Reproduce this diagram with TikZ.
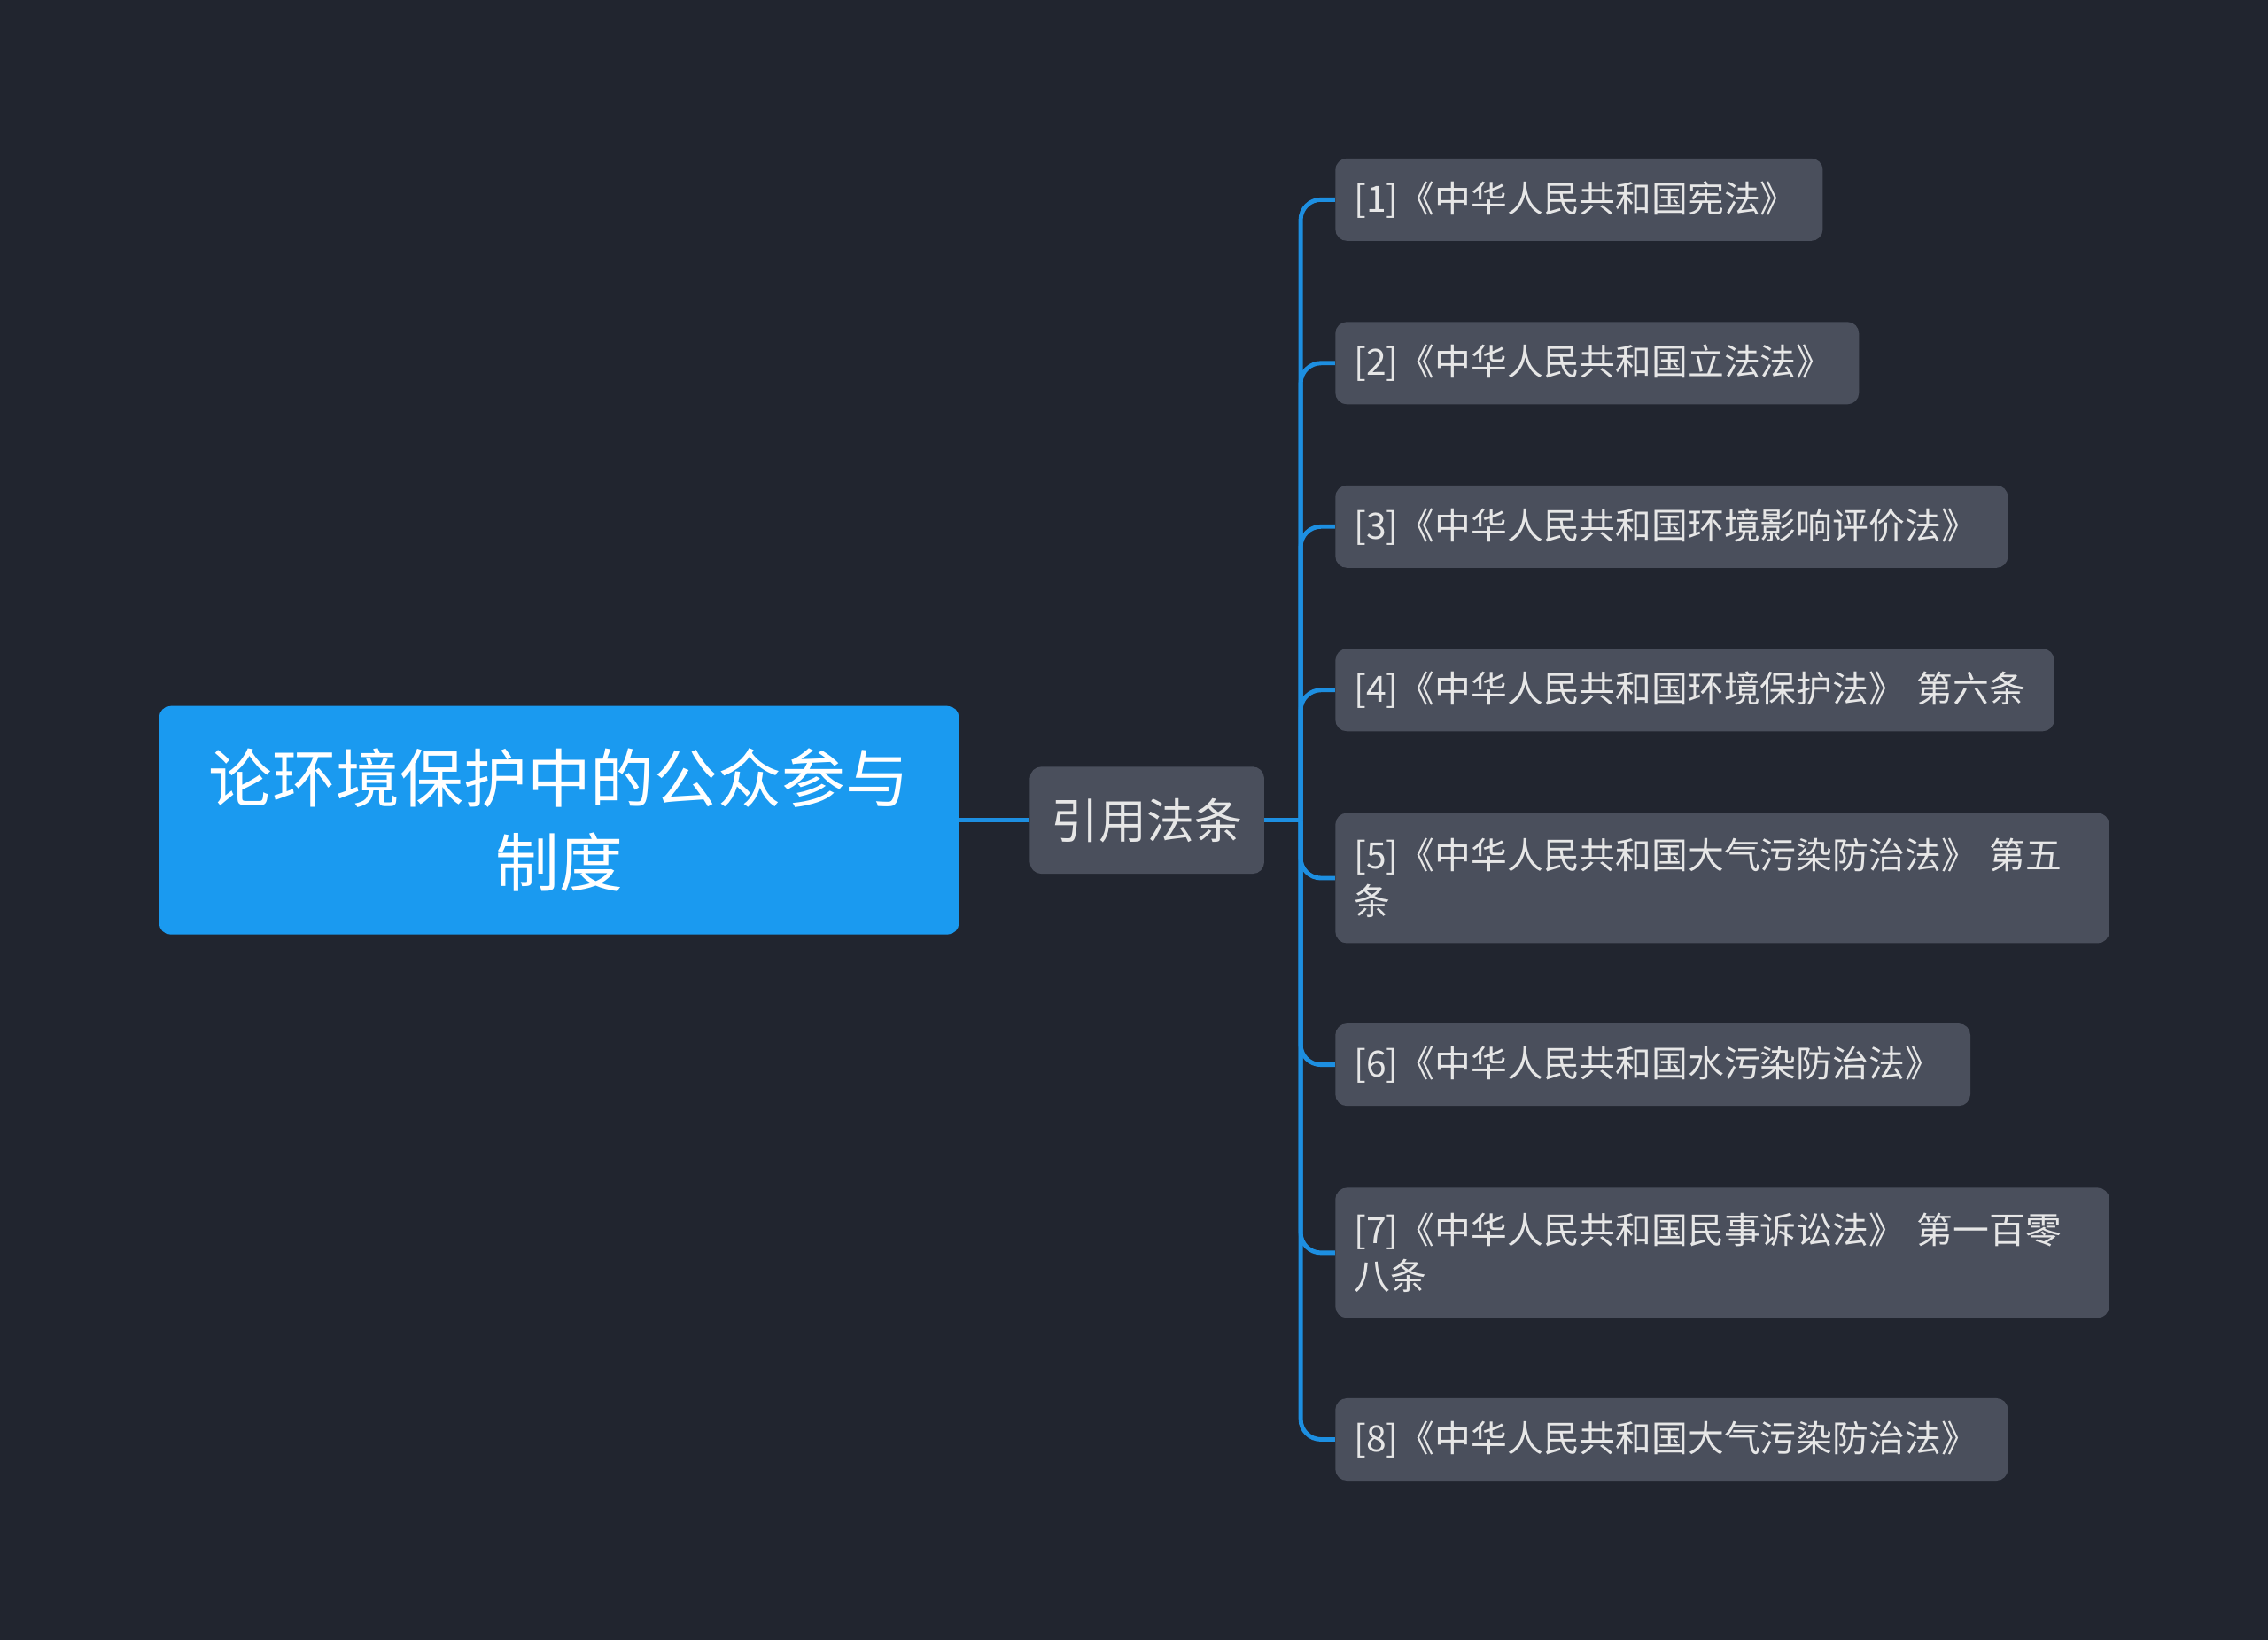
\documentclass[tikz,border=0pt]{standalone}
\usepackage{fontspec}
\newfontfamily\cjk{Noto Sans CJK SC}
\usetikzlibrary{calc}
\definecolor{bg}{HTML}{21252F}
\definecolor{rootc}{HTML}{1A9AF0}
\definecolor{boxc}{HTML}{4A4F5C}
\definecolor{linec}{HTML}{1D8FE1}
\definecolor{txt}{HTML}{E6E6E6}
\tikzset{
 rootbox/.style={fill=rootc,rounded corners=8pt,text=white,font=\cjk\fontsize{44}{58}\selectfont,align=center,minimum width=553pt,minimum height=158pt,inner sep=0pt},
 midbox/.style={fill=boxc,rounded corners=8pt,text=txt,font=\cjk\fontsize{33}{40}\selectfont,minimum width=162pt,minimum height=74pt,inner sep=0pt},
 leaf/.style={fill=boxc,rounded corners=8pt,text=txt,font=\cjk\fontsize{25}{32}\selectfont,align=left,anchor=west,inner xsep=13pt,inner ysep=0pt,minimum height=57pt,text width=#1-26pt},
 conn/.style={draw=linec,line width=3pt}
}
\begin{document}
\begin{tikzpicture}[x=1pt,y=-1pt]
\fill[bg] (0,0) rectangle (1568,1134);
\useasboundingbox (0,0) rectangle (1568,1134);
\node[rootbox] (root) at (386.5,567) {论环境保护中的公众参与\\制度};
\node[midbox] (mid) at (793,567) {引用法条};
\node[leaf=337pt] (l1) at (923,138) {[1]《中华人民共和国宪法》};
\node[leaf=362pt] (l2) at (923,251) {[2]《中华人民共和国立法法》};
\node[leaf=465pt] (l3) at (923,364) {[3]《中华人民共和国环境影响评价法》};
\node[leaf=497pt] (l4) at (923,477) {[4]《中华人民共和国环境保护法》 第六条};
\node[leaf=535pt,minimum height=90pt] (l5) at (923,607) {[5]《中华人民共和国大气污染防治法》 第五\\条};
\node[leaf=439pt] (l6) at (923,736) {[6]《中华人民共和国水污染防治法》};
\node[leaf=535pt,minimum height=90pt] (l7) at (923,866) {[7]《中华人民共和国民事诉讼法》 第一百零\\八条};
\node[leaf=465pt] (l8) at (923,995) {[8]《中华人民共和国大气污染防治法》};
\draw[conn] (root.east) -- (mid.west);
\coordinate (j) at ($(mid.east)+(25,0)$);
\draw[conn] (mid.east) -- (j);
\foreach \l in {l1,l2,l3,l4,l5,l6,l7,l8}
  \draw[conn,rounded corners=14pt] (j) |- (\l.west);
\end{tikzpicture}
\end{document}
